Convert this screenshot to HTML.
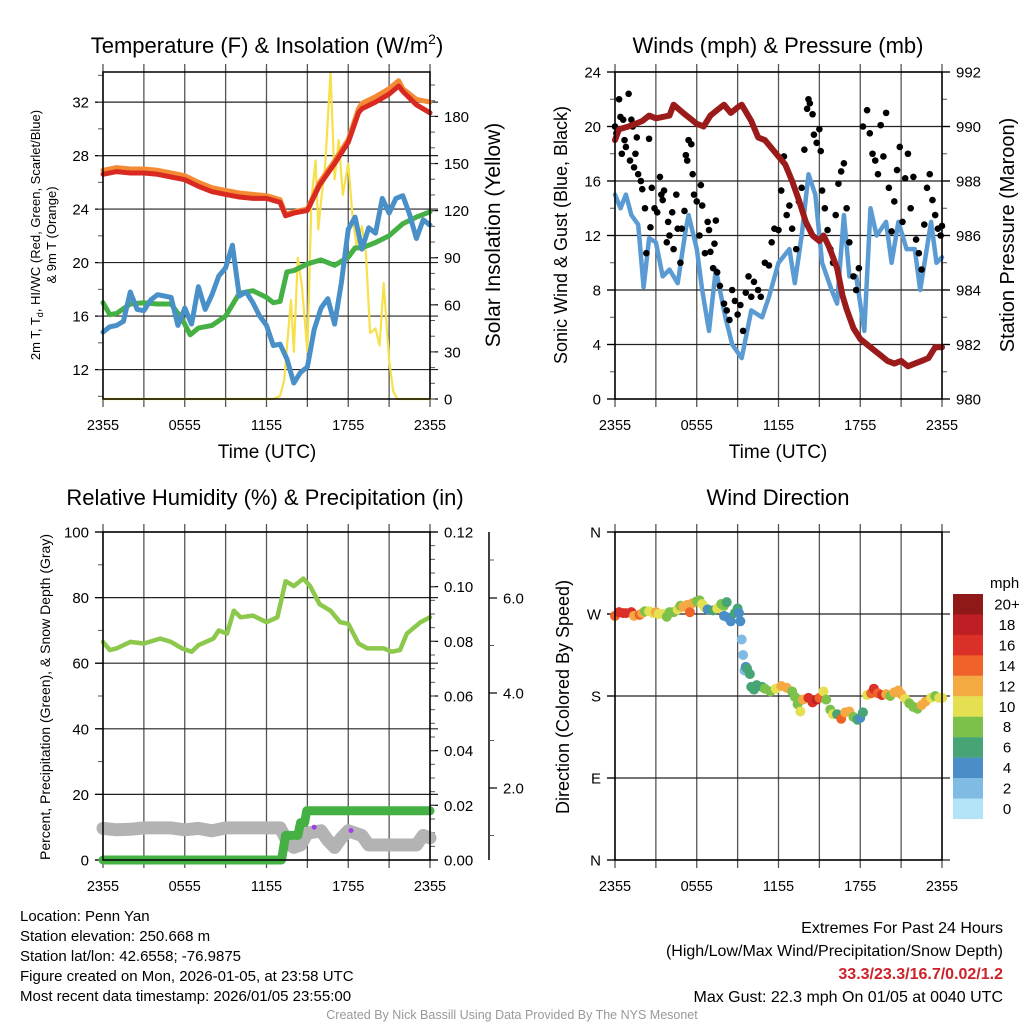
<!DOCTYPE html>
<html><head><meta charset="utf-8"><style>
html,body{margin:0;padding:0;background:#fff}
svg{display:block;font-family:"Liberation Sans",sans-serif}
</style></head><body>
<svg id="fig" width="1024" height="1024" viewBox="0 0 1024 1024">
<rect width="1024" height="1024" fill="#fff"/>
<g id="marks"></g>
<g font-size="22" text-anchor="middle" fill="#000">
<text x="267" y="53">Temperature (F) &amp; Insolation (W/m<tspan font-size="14" dy="-9">2</tspan><tspan dy="9">)</tspan></text>
<text x="778" y="53">Winds (mph) &amp; Pressure (mb)</text>
<text x="265" y="505">Relative Humidity (%) &amp; Precipitation (in)</text>
<text x="778" y="505">Wind Direction</text>
</g>
<g font-size="19" text-anchor="middle">
<text x="267" y="458">Time (UTC)</text>
<text x="778" y="458">Time (UTC)</text>
<text transform="translate(500,235) rotate(-90)" font-size="21">Solar Insolation (Yellow)</text>
<text transform="translate(567,235) rotate(-90)" font-size="18">Sonic Wind &amp; Gust (Blue, Black)</text>
<text transform="translate(1014,235) rotate(-90)" font-size="20">Station Pressure (Maroon)</text>
<text transform="translate(569,697) rotate(-90)" font-size="18">Direction (Colored By Speed)</text>
<text transform="translate(50,697) rotate(-90)" font-size="14">Percent, Precipitation (Green), &amp; Snow Depth (Gray)</text>
<text transform="translate(40,235) rotate(-90)" font-size="13">2m T, T<tspan font-size="9" dy="3">d</tspan><tspan dy="-3">, HI/WC (Red, Green, Scarlet/Blue)</tspan></text>
<text transform="translate(56,235) rotate(-90)" font-size="13">&amp; 9m T (Orange)</text>
</g>
<g font-size="15" fill="#000">
<text x="20" y="921">Location: Penn Yan</text>
<text x="20" y="941">Station elevation: 250.668 m</text>
<text x="20" y="961">Station lat/lon: 42.6558; -76.9875</text>
<text x="20" y="981">Figure created on Mon, 2026-01-05, at 23:58 UTC</text>
<text x="20" y="1001">Most recent data timestamp: 2026/01/05 23:55:00</text>
</g>
<g font-size="16" text-anchor="end">
<text x="1003" y="933">Extremes For Past 24 Hours</text>
<text x="1003" y="956">(High/Low/Max Wind/Precipitation/Snow Depth)</text>
<text x="1003" y="979" fill="#cc2229" font-weight="bold">33.3/23.3/16.7/0.02/1.2</text>
<text x="1003" y="1002">Max Gust: 22.3 mph On 01/05 at 0040 UTC</text>
</g>
<text x="512" y="1019" font-size="12.5" fill="#999" text-anchor="middle">Created By Nick Bassill Using Data Provided By The NYS Mesonet</text>
</svg>
<script>
// ---------------- data ----------------
const xTickLabels = ["2355","0555","1155","1755","2355"];
const tempHours = [0,1,2,3,4,5,6,7,8,9,10,11,12,13,13.4,14,15,15.9,17,18,18.75,19,20,21,21.7,22,23,24];
const tempVals  = [26.6,26.8,26.7,26.7,26.6,26.4,26.2,25.7,25.3,25.1,24.9,24.8,24.8,24.5,23.5,23.7,23.9,25.8,27.4,29.0,31.2,31.5,32.0,32.6,33.2,32.8,31.8,31.2];
const nineHours = tempHours;
const nineVals  = [26.9,27.1,27.0,27.0,26.9,26.7,26.5,26.0,25.6,25.4,25.2,25.1,25.0,24.7,23.6,23.8,24.0,26.0,27.6,29.2,31.5,31.9,32.4,33.0,33.6,33.0,32.2,32.0];
const dewHours = [0,0.5,1,2,3,4,5,5.8,6.4,7,8,9,10,11,12,12.5,13,13.5,14,15,16,17,18,18.5,19,20,21,22,23,24];
const dewVals  = [17.0,16.1,16.2,16.9,17.0,16.9,16.9,15.8,14.6,15.1,15.3,16.0,17.7,17.9,17.4,17.0,17.1,19.3,19.4,19.9,20.2,19.8,20.4,21.1,21.1,21.5,22.0,22.9,23.4,23.8];
const wcHours = [0,0.5,1,1.5,2,2.5,3,3.5,4,4.5,5,5.5,6,6.5,7,7.5,8,8.5,9,9.5,10,10.5,11,11.5,12,12.5,13,13.5,14,14.5,15,15.5,16,16.5,17,17.5,18,18.5,19,19.5,20,20.5,21,21.5,22,22.5,23,23.5,24];
const wcVals  = [14.8,15.2,15.3,15.6,17.8,16.5,16.4,17.2,17.6,17.5,17.4,15.3,16.6,15.4,18.2,16.5,17.6,19.0,19.6,21.3,17.5,17.8,17.0,16.0,15.3,13.8,13.9,12.8,11.0,11.8,12.2,15.0,16.6,17.3,15.4,18.5,22.5,23.4,21.0,22.6,22.2,24.8,23.7,24.8,25.0,23.6,21.8,23.2,22.8];
const solarHours = [0,12.5,13,13.3,13.5,13.8,14,14.3,14.6,15,15.3,15.6,15.8,16,16.3,16.7,17,17.3,17.6,18,18.3,18.6,19,19.3,19.6,20,20.3,20.6,21,21.3,21.6,24];
const solarVals  = [0,0,2,12,33,63,30,90,72,30,128,152,108,126,148,208,140,165,130,150,118,98,110,92,42,45,34,74,25,5,0,0];

const windHours = [0,0.4,0.8,1.2,1.7,2.1,2.5,3.0,3.5,4.0,4.6,5.2,5.4,6.0,6.4,6.9,7.4,8.1,8.6,9.3,10.0,10.8,11.3,12.0,12.8,13.2,13.7,14.2,14.7,15.2,15.9,16.3,16.8,17.2,17.7,18.3,18.75,19.2,19.9,20.3,20.8,21.4,22.0,22.4,23.2,23.6,24];
const windVals  = [15.0,14.0,15.0,13.5,12.8,8.2,11.8,11.5,9.0,9.5,8.5,12.5,13.5,11.0,8.0,5.0,9.5,6.0,4.0,3.0,6.5,6.0,7.5,10.0,11.0,8.5,12.0,16.5,15.0,10.0,8.0,7.0,13.5,9.0,9.0,5.0,14.0,12.0,13.0,10.0,13.0,11.0,11.0,8.0,13.0,10.0,10.4];
const gustHours = [0,0.1,0.3,0.4,0.5,0.6,0.7,0.8,1.0,1.1,1.2,1.3,1.4,1.5,1.6,1.7,1.9,2.0,2.2,2.3,2.5,2.6,2.7,2.9,3.1,3.3,3.4,3.5,3.6,3.8,3.9,4.0,4.2,4.3,4.5,4.6,4.8,4.9,5.1,5.2,5.3,5.4,5.6,5.7,5.8,6.0,6.2,6.3,6.4,6.6,6.8,6.9,7.0,7.2,7.3,7.4,7.5,7.7,8.0,8.2,8.4,8.6,8.8,9.0,9.2,9.4,9.6,9.8,10.0,10.2,10.5,10.7,11.0,11.3,11.5,11.7,12.0,12.2,12.4,12.6,12.8,13.0,13.3,13.5,13.7,13.9,14.1,14.2,14.3,14.5,14.6,14.8,15.0,15.1,15.2,15.4,15.6,15.8,16.0,16.2,16.4,16.6,16.8,17.0,17.2,17.5,17.7,17.9,18.2,18.5,18.7,18.9,19.1,19.3,19.5,19.7,19.9,20.1,20.3,20.5,20.7,20.9,21.1,21.3,21.5,21.7,21.9,22.1,22.3,22.5,22.7,22.9,23.1,23.3,23.5,23.7,23.9,24.0];
const gustVals  = [20,19.5,22,20.7,18,20.5,19,18.5,22.4,17.5,20.5,20,17,18,19.2,16.5,16,15.4,14,10.7,19.1,12.6,15.5,14,13.7,16.3,15,14.6,15.3,11.5,13,12,13.7,11,15,12.5,10,12.5,13.8,17.9,17.5,19,18.7,16.5,15,14.5,12,15.7,14.2,10.7,13,12.4,10.8,9.6,11.4,13.1,9.3,8.3,7,6.5,5.8,8,7.2,6.2,6.9,5,7.8,9,7.5,8.6,8,7.5,10,9.8,11.5,12.5,12.4,15.3,17.8,13.5,14.2,12.5,11,14.5,15.5,18.3,21.3,22,21.7,20.9,19.4,18.8,19.8,18.2,15.3,14,12.4,11,10,13.5,15.8,16.7,17.3,14,11.5,9,8,9.6,20,21.2,19.5,18,17.5,16.5,20.1,17.8,21,15.5,12.3,14.5,16.8,18.5,13,16.2,18,14,16.3,11.7,10.7,9.5,12.8,15.5,16.5,14.6,13.5,12.5,12,12.7];
const presHours = [0,0.3,1,2,2.5,3,4,4.3,5,6,6.5,7,7.5,8,8.5,9,9.3,10,10.5,11,12,12.5,13,13.5,14,14.5,15,15.3,15.7,16.3,16.7,17,17.5,18,18.5,19,19.5,20,20.5,21,21.5,22,22.5,23,23.5,24];
const presVals  = [989.5,989.9,990.0,990.2,990.4,990.3,990.4,990.8,990.5,990.1,990.0,990.4,990.6,990.8,990.5,990.7,990.8,990.2,989.6,989.5,988.9,988.6,988.0,987.3,986.5,986.0,985.8,986.0,985.6,984.8,983.8,983.3,982.6,982.2,982.0,981.8,981.6,981.4,981.3,981.4,981.2,981.3,981.4,981.5,981.9,981.9];

const rhHours = [0,0.5,1,2,3,4.2,5,5.8,6.5,7,8.1,8.5,9.1,9.6,10.1,11,12,12.8,13.4,14,14.7,15.2,15.9,16.7,17.4,18,18.75,19.4,20.6,21.2,21.8,22.3,23.3,24];
const rhVals  = [66.5,64,64.5,66.5,66,67.5,66.5,64.5,63.5,65.5,67.5,70,69,76,74,74.5,72.5,74,85,83.5,85.8,83.5,78,76,72.5,72,66,64.5,64.5,63.5,64,69,72.5,74];
const precipHours = [0,13.1,13.4,14.3,14.5,14.8,14.95,24];
const precipVals  = [0,0,0.009,0.009,0.0137,0.0137,0.018,0.018];
const snowHours = [0,1,2,3,4,5,6,7,8,9,10,11,12,13,13.3,13.6,14,14.5,15,16,16.5,17,17.5,18,19,19.5,20,21,22,23,23.5,24];
const snowVals  = [1.15,1.12,1.13,1.16,1.16,1.16,1.12,1.15,1.1,1.16,1.16,1.16,1.16,1.16,1.0,0.82,0.75,0.8,1.05,1.1,0.9,0.75,0.95,1.1,1.0,0.8,0.8,0.8,0.8,0.8,1.0,0.95];
const markerHours = [15.5,18.2];
const markerVals  = [10,9];

const dirHours = [0,0.3,0.6,0.8,1.2,1.4,1.8,2.0,2.2,2.5,2.8,3.0,3.2,3.5,3.8,4.0,4.3,4.6,4.8,5.0,5.3,5.5,5.7,6.0,6.2,6.4,6.6,6.8,7.2,7.5,7.8,8.0,8.2,8.0,8.3,8.5,8.8,9.0,9.1,9.2,9.3,9.4,9.5,9.6,9.7,9.9,10.0,10.2,10.4,10.8,11.0,11.4,11.8,12.2,12.6,13.0,13.2,13.4,13.6,13.8,14.2,14.5,14.8,15.0,15.3,15.5,15.8,16.0,16.3,16.6,16.9,17.2,17.5,17.8,18.0,18.2,18.5,18.8,19.0,19.3,19.6,19.9,20.2,20.5,20.8,21.0,21.3,21.6,21.9,22.2,22.5,22.8,23.2,23.5,23.8,24.0];
const dirVals  = [268,272,271,271,272,268,269,271,273,273,271,272,270,270,267,272,272,275,279,278,280,272,282,284,285,281,277,275,274,276,281,279,283,268,266,262,271,276,271,262,242,225,208,212,210,204,190,187,192,190,188,185,188,191,189,185,179,171,163,176,178,173,176,178,185,176,165,160,160,155,162,163,157,154,156,162,181,183,188,183,181,182,180,184,186,182,177,172,168,166,170,174,178,180,178,178];
const dirSpeeds = [15,16,17,16,16,13,14,12,8,10,11,12,10,10,8,8,9,10,9,12,12,14,12,8,8,10,10,5,7,10,8,8,6,4,4,4,6,6,4,4,2,2,2,4,6,6,6,6,6,6,8,8,10,12,12,8,8,8,10,12,16,16,18,14,10,8,8,10,6,14,12,12,8,6,4,6,10,14,16,14,16,12,8,12,12,12,10,8,8,8,12,12,10,8,10,10];
const speedBinLabels = ["20+","18","16","14","12","10","8","6","4","2","0"];
const speedBinColors = ["#8f1818","#bf1e24","#db3027","#ef6229","#f5a943","#e4e052","#7cc14a","#47a575","#4a8ec7","#7fbbe3","#b3e3f7"];

// ---------------- drawing ----------------
const NS = "http://www.w3.org/2000/svg";
const root = document.getElementById('marks');
function mk(tag, attrs, parent){
  const e = document.createElementNS(NS, tag);
  for (const k in attrs) e.setAttribute(k, attrs[k]);
  (parent||root).appendChild(e);
  return e;
}
function panel(x0,y0,x1,y1){ return {x0,y0,x1,y1, tx: h => x0 + h/24*(x1-x0)}; }
function yScale(p, lo, hi){ return v => p.y1 - (v-lo)/(hi-lo)*(p.y1-p.y0); }

const P = [panel(103,72,430,399), panel(615,72,942,399), panel(103,532,430,860), panel(615,532,942,860)];

function frame(p, name){
  for (let i=0;i<=8;i++){
    const x = p.x0 + i*(p.x1-p.x0)/8;
    const g = mk('line',{x1:x,x2:x,y1:p.y0-8,y2:p.y1+8,stroke:'#555','stroke-width':1.3});
    
    
  }
  for (let i=0;i<5;i++){
    const t = mk('text',{x:p.x0+i*(p.x1-p.x0)/4,y:p.y1+31,'font-size':14.5,'text-anchor':'middle'});
    t.textContent = xTickLabels[i];
    
    
  }
}
function hgrid(p, ys, name){
  ys.forEach(y=>{
    const g = mk('line',{x1:p.x0-8,x2:p.x1+8,y1:y,y2:y,stroke:'#222','stroke-width':1.2});
    
    
  });
}
function box(p, name){
  const b = mk('rect',{x:p.x0,y:p.y0,width:p.x1-p.x0,height:p.y1-p.y0,fill:'none',stroke:'#000','stroke-width':1.5});
  
  
}
function axis(x, ys, side, labels, minors, name, len){
  const d = side==='left' ? -1 : 1;
  ys.forEach((y,i)=>{
    const t = mk('line',{x1:x,x2:x+d*(len||8),y1:y,y2:y,stroke:'#000','stroke-width':1.2});
    
    
    if (labels){
      const l = mk('text',{x:x+d*14,y:y+5.5,'font-size':15,'text-anchor':side==='left'?'end':'start'});
      l.textContent = labels[i];
      
      
    }
  });
  minors.forEach(y=>{
    const t = mk('line',{x1:x,x2:x+d*5,y1:y,y2:y,stroke:'#555','stroke-width':1});
    
    
  });
}
function range(a,b,s){ const r=[]; for(let v=a; v<=b+1e-9; v+=s) r.push(+v.toFixed(4)); return r; }
function pathD(p, hs, vs, ys){ return hs.map((h,i)=>(i?'L':'M')+p.tx(h).toFixed(1)+','+ys(vs[i]).toFixed(1)).join(''); }
function line(p, hs, vs, ys, color, w, name){
  const e = mk('path',{d:pathD(p,hs,vs,ys),fill:'none',stroke:color,'stroke-width':w,'stroke-linejoin':'round','stroke-linecap':'round'});
  
  
}

// Panel 1: temperature
{
  const p=P[0], yL=yScale(p,9.8,34.25), yR=yScale(p,0,208.3);
  frame(p,'temperature');
  const majL = range(12,32,4);
  hgrid(p, majL.map(yL), 'temperature');
  axis(p.x0, majL.map(yL), 'left', majL, range(10,34,2).map(yL), 'temperature-left-axis');
  const majR = range(0,180,30);
  axis(p.x1, majR.map(yR), 'right', majR, range(0,200,10).map(yR), 'solar-right-axis');
  line(p, solarHours, solarVals, yR, '#f7e04a', 2.2, 'solar-insolation-line');
  line(p, dewHours, dewVals, yL, '#45b044', 5, 'dewpoint-line');
  line(p, wcHours, wcVals, yL, '#4a90c8', 5, 'wind-chill-line');
  line(p, nineHours, nineVals, yL, '#f58a35', 5, 'nine-meter-temperature-line');
  line(p, tempHours, tempVals, yL, '#d92a22', 5, 'two-meter-temperature-line');
  box(p,'temperature');
}
// Panel 2: winds
{
  const p=P[1], yL=yScale(p,0,24), yR=yScale(p,980,992);
  frame(p,'winds');
  const majL = range(0,24,4);
  hgrid(p, majL.map(yL), 'winds');
  axis(p.x0, majL.map(yL), 'left', majL, range(2,22,4).map(yL), 'wind-left-axis');
  const majR = range(980,992,2);
  axis(p.x1, majR.map(yR), 'right', majR, range(981,991,2).map(yR), 'pressure-right-axis');
  line(p, windHours, windVals, yL, '#5b9bd3', 4.5, 'sonic-wind-line');
  gustHours.forEach((h,i)=>{
    const c = mk('circle',{cx:p.tx(h),cy:yL(gustVals[i]),r:3.3,fill:'#000'});
    
    
  });
  line(p, presHours, presVals, yR, '#9b1b1b', 6, 'station-pressure-line');
  box(p,'winds');
}
// Panel 3: humidity
{
  const p=P[2], yL=yScale(p,0,100), yP=yScale(p,0,0.12);
  const ySnow = v => 883 - v*47.5;
  frame(p,'humidity');
  const majL = range(0,100,20);
  hgrid(p, majL.map(yL), 'humidity');
  axis(p.x0, majL.map(yL), 'left', majL, range(10,90,20).map(yL), 'humidity-left-axis');
  const majP = [0,0.02,0.04,0.06,0.08,0.10,0.12];
  axis(p.x1, majP.map(yP), 'right', majP.map(v=>v.toFixed(2)), range(0.005,0.115,0.005).map(yP), 'precip-right-axis');
  const sa = mk('line',{x1:489,x2:489,y1:p.y0,y2:p.y1,stroke:'#000','stroke-width':1.5});
  
  
  axis(489, [2,4,6].map(ySnow), 'right', ['2.0','4.0','6.0'], [1,3,5,6.8].map(ySnow), 'snow-depth-axis');
  line(p, snowHours, snowVals, ySnow, '#b3b3b3', 13, 'snow-depth-line');
  line(p, precipHours, precipVals, yP, '#45b044', 9, 'precipitation-line');
  line(p, rhHours, rhVals, yL, '#8cc84b', 4.5, 'relative-humidity-line');
  markerHours.forEach((h,i)=>{
    const c = mk('circle',{cx:p.tx(h),cy:yL(markerVals[i]),r:2.5,fill:'#a23ee8'});
    
    
  });
  box(p,'humidity');
}
// Panel 4: wind direction
{
  const p=P[3], yD=yScale(p,0,360);
  frame(p,'direction');
  const majD = [0,90,180,270,360];
  hgrid(p, majD.map(yD), 'direction');
  axis(p.x0, majD.map(yD), 'left', ['N','E','S','W','N'], [], 'direction-left-axis');
  const binColor = s => speedBinColors[10 - Math.min(10, Math.floor(s/2))];
  dirHours.forEach((h,i)=>{
    const c = mk('circle',{cx:p.tx(h),cy:yD(dirVals[i]),r:5,fill:binColor(dirSpeeds[i])});
    
    
  });
  box(p,'direction');
  const t = mk('text',{x:990,y:588,'font-size':15});
  t.textContent = 'mph';
  
  
  speedBinLabels.forEach((lab,i)=>{
    const y = 594 + i*20.45;
    const r = mk('rect',{x:953,y:y,width:30,height:20.6,fill:speedBinColors[i]});
    
    
    const l = mk('text',{x:1007,y:y+15.5,'font-size':15,'text-anchor':'middle'});
    l.textContent = lab;
    
    
  });
}
</script>
</body></html>
